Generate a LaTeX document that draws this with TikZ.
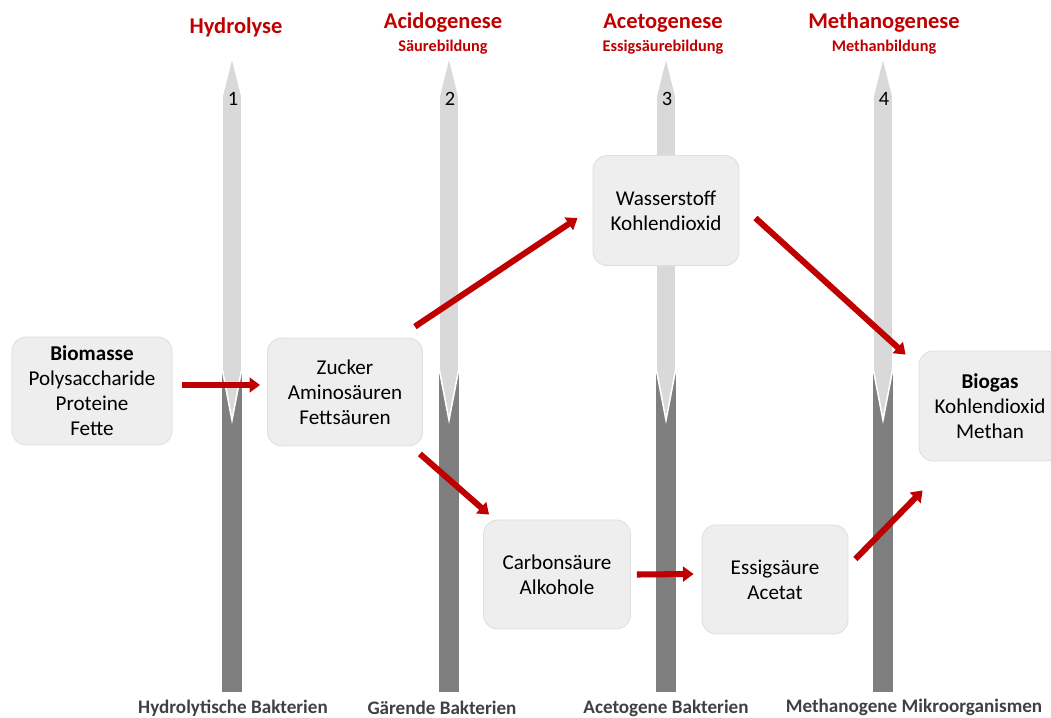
\documentclass[tikz,border=0pt]{standalone}
\usepackage{fontspec}
\setmainfont{Carlito}
\usetikzlibrary{arrows.meta}

\definecolor{phasered}{HTML}{C00000}
\definecolor{boxfill}{HTML}{EEEEEE}
\definecolor{boxedge}{HTML}{DEDEDE}
\definecolor{barlight}{HTML}{D9D9D9}
\definecolor{bardark}{HTML}{7F7F7F}
\definecolor{labelgray}{HTML}{404040}

\begin{document}
\begin{tikzpicture}[x=0.025cm, y=-0.025cm,
  stage/.style={rectangle, rounded corners=0.36cm, fill=boxfill, draw=boxedge,
    line width=0.6pt, align=center, minimum height=2.7cm, inner sep=2pt,
    font=\fontsize{15}{17.7}\selectfont},
  flow/.style={draw=phasered, line width=4.3pt,
    -{Triangle[length=7.5pt, width=10.5pt]}},
  phase/.style={anchor=base, text=phasered, font=\fontsize{16}{18}\selectfont\bfseries},
  subphase/.style={anchor=base, text=phasered, font=\fontsize{11.6}{13}\selectfont\bfseries},
  microbe/.style={anchor=base, text=labelgray, font=\fontsize{13.6}{15}\selectfont\bfseries},
  num/.style={anchor=base, font=\fontsize{14.5}{16}\selectfont}]
  \useasboundingbox (0,0) rectangle (1051,717);

  % bars
  \foreach \cx/\n in {232/1,449/2,666/3,883/4} {
    \fill[bardark] (\cx-10,368) rectangle (\cx+10,692);
    \filldraw[fill=barlight, draw=white, line width=1.1pt]
      (\cx,57) -- (\cx+10,97) -- (\cx+10,368) -- (\cx,420)
      -- (\cx-10,368) -- (\cx-10,97) -- cycle;
    \node[num] (num\n) at (\cx+1,105) {\n};
  }

  % phases
  \node[phase] (hydro) at (236,33) {Hydrolyse};
  \node[phase] (acido) at (443,28) {Acidogenese};
  \node[subphase] (acidosub) at (443,51) {Säurebildung};
  \node[phase] (aceto) at (663,28) {Acetogenese};
  \node[subphase] (acetosub) at (663,51) {Essigsäurebildung};
  \node[phase] (methano) at (884,28) {Methanogenese};
  \node[subphase] (methanosub) at (884,51) {Methanbildung};

  % microorganisms
  \node[microbe] (hydrobak) at (233,713) {Hydrolytische Bakterien};
  \node[microbe] (gaerbak) at (442,714) {Gärende Bakterien};
  \node[microbe] (acetobak) at (666,713) {Acetogene Bakterien};
  \node[microbe] (methanorg) at (914,712) {Methanogene Mikroorganismen};

  % substances
  \node[stage, minimum width=4cm] (biomasse) at (92,391)
    {\textbf{Biomasse}\\Polysaccharide\\Proteine\\Fette};
  \node[stage, minimum width=3.875cm] (zucker) at (345,392)
    {Zucker\\Aminosäuren\\Fettsäuren};
  \node[stage, minimum width=3.65cm, minimum height=2.75cm] (wasser) at (666,210.5)
    {Wasserstoff\\Kohlendioxid};
  \node[stage, minimum width=3.675cm, minimum height=2.725cm] (carbon) at (557,574.5)
    {Carbonsäure\\Alkohole};
  \node[stage, minimum width=3.65cm, minimum height=2.725cm] (essig) at (775,579.5)
    {Essigsäure\\Acetat};
  \node[stage, minimum width=3.55cm, minimum height=2.75cm] (biogas) at (990,406)
    {\textbf{Biogas}\\Kohlendioxid\\Methan};

  % connectors
  \draw[flow] ([shift={(10,-6)}]biomasse.east) -- ([shift={(-7,-7)}]zucker.west);
  \draw[flow] ([shift={(-8,-11)}]zucker.north east) -- ([shift={(-15,7.5)}]wasser.west);
  \draw[flow] ([shift={(-3,7.5)}]zucker.south east) -- ([shift={(6,-5)}]carbon.north west);
  \draw[flow] ([shift={(16,7.5)}]wasser.east) -- ([shift={(-13,4)}]biogas.north west);
  \draw[flow] ([shift={(6,0)}]carbon.east) -- ([shift={(-8,-5.5)}]essig.west);
  \draw[flow] ([shift={(7,-20.5)}]essig.east) -- ([shift={(4,29)}]biogas.south west);
\end{tikzpicture}
\end{document}
